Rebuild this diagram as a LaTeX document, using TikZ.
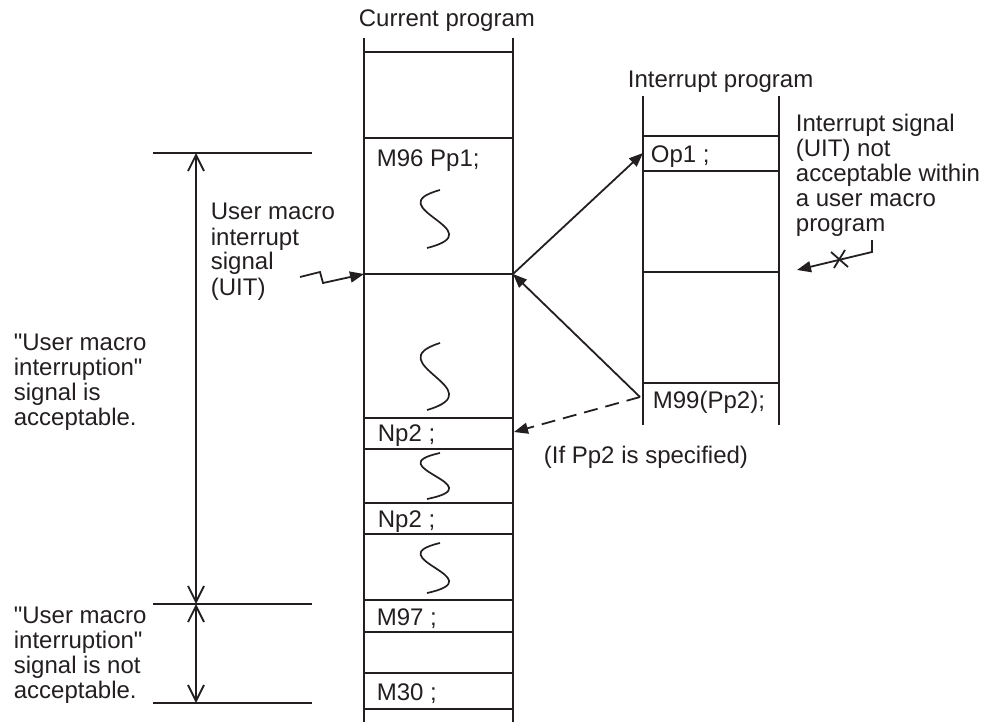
\documentclass[tikz,border=0pt]{standalone}
\usepackage{fontspec}
\setmainfont{Liberation Sans}[Ligatures=TeXOff]
\usetikzlibrary{arrows.meta}
\definecolor{ink}{HTML}{231F20}
\newcommand\stk[1]{\vtop{\baselineskip=25pt\lineskiplimit=-20pt\halign{##\hfil\cr#1\crcr}}}
\newcommand\squig[3]{\draw[squigline] ({#1+6},#2) .. controls ({#1-58},{#2+0.3*(#3-#2)}) and ({#1+62},{#2+0.7*(#3-#2)}) .. ({#1-7},#3);}
\begin{document}
\begin{tikzpicture}[x=1pt,y=-1pt,line width=1.8pt,color=ink,
  txt/.style={anchor=base west,inner sep=0pt,font=\fontsize{24}{25}\selectfont,text=ink},
  tip/.style={-{Triangle[length=14pt,width=11pt]}},
  dim/.style={{Straight Barb[length=16pt,width=16pt]}-{Straight Barb[length=16pt,width=16pt]}},
  squigline/.style={line width=1.7pt},
  colline/.style={line width=2pt}]
\useasboundingbox (0,0) rectangle (985,722);
% current program column
\draw[colline] (364,38) -- (364,722);
\draw[colline] (513,38) -- (513,722);
\foreach \y in {52,138,274,418,449,503,534,600,632,673,709} \draw[colline] (364,\y) -- (513,\y);
% interrupt program column
\draw[colline] (643,96) -- (643,425);
\draw[colline] (779,96) -- (779,425);
\foreach \y in {136,171,272,383} \draw[colline] (643,\y) -- (779,\y);
% squiggles
\squig{434}{190}{248}
\squig{434}{343}{410}
\squig{434}{453}{499}
\squig{434}{543}{593}
% texts
\node[txt] (cur) at (358,27) {Current program};
\node[txt] (intp) at (627,88) {Interrupt program};
\node[txt] (m96) at (376,167) {M96 Pp1;};
\node[txt] (op1) at (650,163) {Op1 ;};
\node[txt] (np2a) at (377,441) {Np2 ;};
\node[txt] (np2b) at (377,527) {Np2 ;};
\node[txt] (m97) at (376,625) {M97 ;};
\node[txt] (m30) at (376,700) {M30 ;};
\node[txt] (m99) at (652,408) {M99(Pp2);};
\node[txt] (ifpp2) at (543,463) {(If Pp2 is specified)};
\node[txt] (uit) at (210,220) {\stk{User macro\cr interrupt\cr signal\cr (UIT)}};
\node[txt] (acc) at (13,350) {\stk{"User macro\cr interruption"\cr signal is\cr acceptable.}};
\node[txt] (nacc) at (13,623) {\stk{"User macro\cr interruption"\cr signal is not\cr acceptable.}};
\node[txt] (notacc) at (795,132) {\stk{Interrupt signal\cr (UIT) not\cr acceptable within\cr a user macro\cr program}};
% connector points
\coordinate (uitR) at (513,274);
\coordinate (uitL) at (364,274);
\coordinate (op1L) at (643,153);
\coordinate (m99L) at (640,397);
\coordinate (np2R) at (514,432);
\coordinate (z0) at (300,277);
\coordinate (z1) at (320,272);
\coordinate (z2) at (323,283);
\coordinate (xs) at (872,240);
\coordinate (xk) at (872,252);
\coordinate (xe) at (797,270);
% arrows
\draw[tip] (uitR) -- (op1L);
\draw[tip] (m99L) -- (uitR);
\draw[tip,dash pattern=on 14pt off 8pt] (m99L) -- (np2R);
\draw[tip] (z0) -- (z1) -- (z2) -- (uitL);
\draw[tip] (xs) -- (xk) -- (xe);
\draw (831,252) -- (848,267);
\draw (834,268) -- (845,250);
% dimension lines
\draw (153,153) -- (312,153);
\draw (153,604) -- (312,604);
\draw (153,703) -- (312,703);
\coordinate (dA) at (196,153);
\coordinate (dB) at (196,604);
\coordinate (dC) at (196,703);
\draw[dim] (dA) -- (dB);
\draw[dim] (dB) -- (dC);
\end{tikzpicture}
\end{document}
